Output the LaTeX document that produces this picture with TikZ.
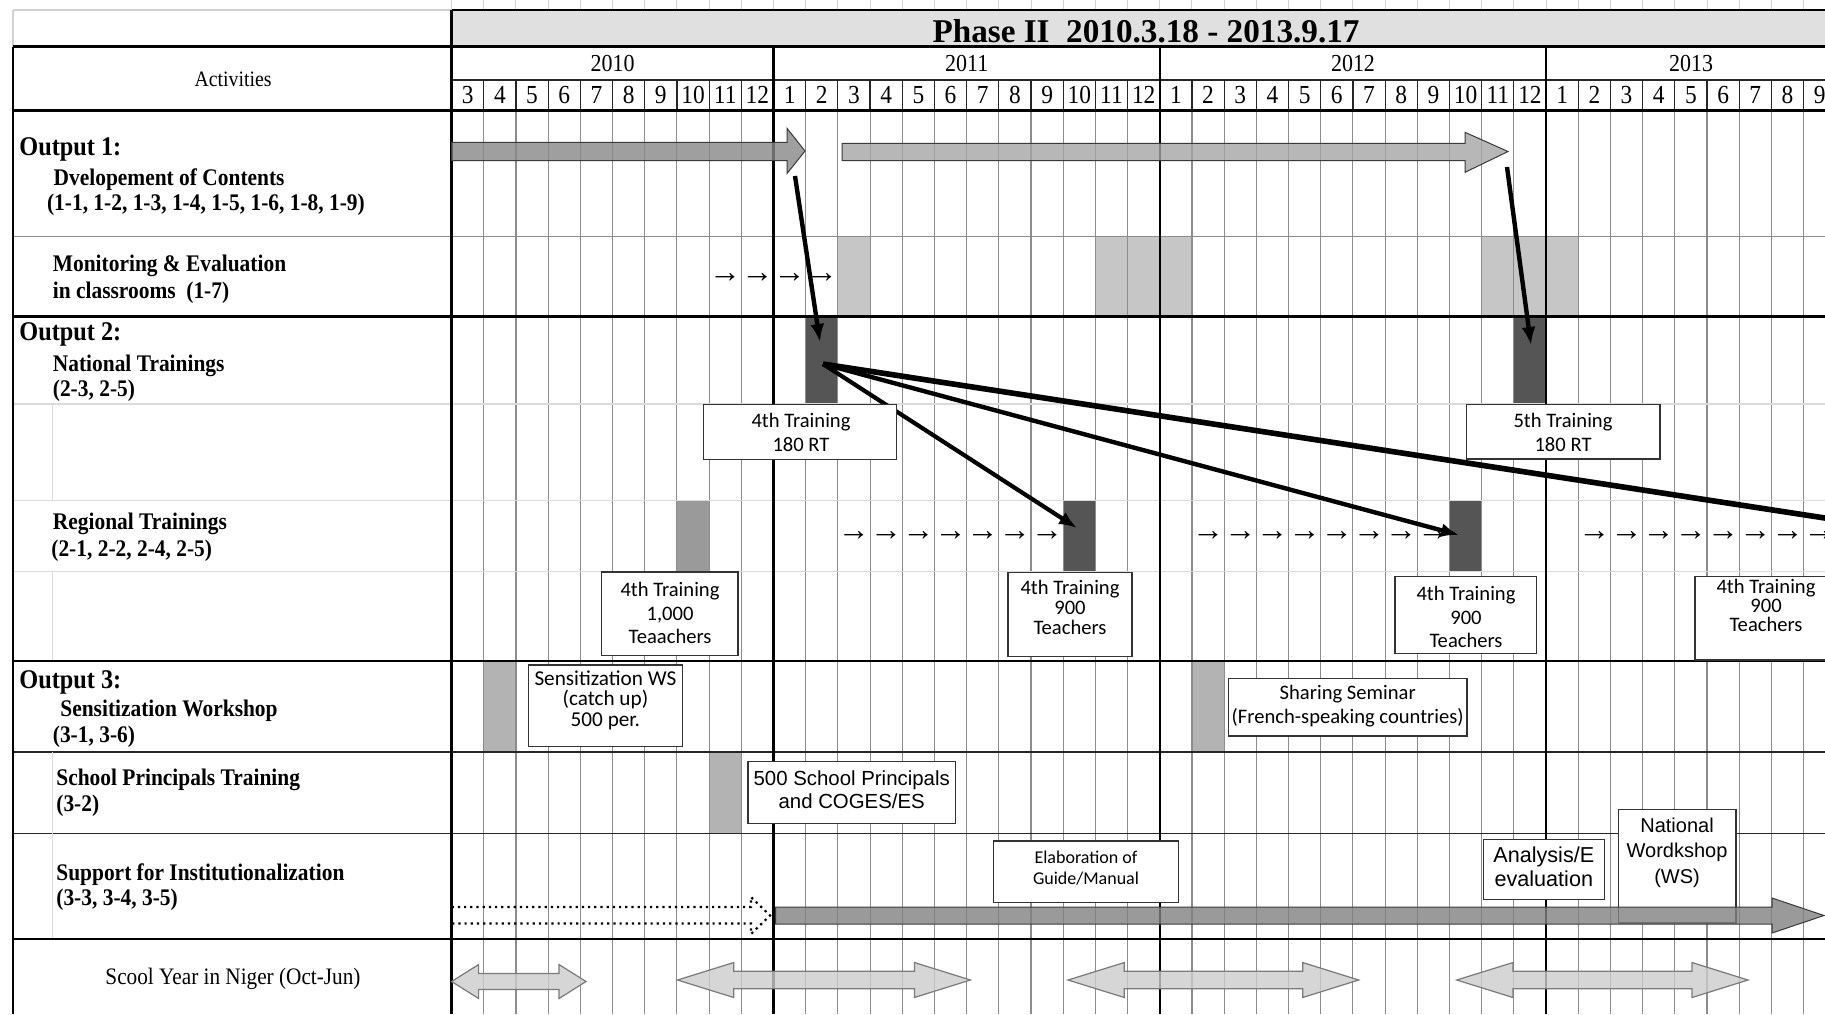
\documentclass[tikz,border=0pt]{standalone}
\usepackage{fontspec}
\setmainfont{Liberation Serif}
\newfontfamily\lblfont{Liberation Serif}[FakeStretch=0.9]
\newfontfamily\boxfont{Carlito}
\newfontfamily\arialfont{Liberation Sans}
\usetikzlibrary{arrows.meta}
\definecolor{gridgray}{gray}{0.55}
\definecolor{palegray}{gray}{0.86}
\definecolor{toplines}{gray}{0.82}
\definecolor{hdrgray}{HTML}{E0E0E0}
\definecolor{darkblock}{HTML}{555555}
\definecolor{midblock}{HTML}{9A9A9A}
\definecolor{lightblock}{HTML}{C6C6C6}
\definecolor{sensblock}{HTML}{B3B3B3}
\definecolor{arrowA}{HTML}{888888}
\definecolor{arrowB}{HTML}{A6A6A6}
\definecolor{arrowC}{HTML}{818181}
\definecolor{schoolfill}{HTML}{CCCCCC}
\definecolor{schooledge}{HTML}{7A7A7A}
\definecolor{arrowedge}{HTML}{3A3A3A}
\definecolor{boxedge}{HTML}{333333}
\begin{document}
\begin{tikzpicture}[x=0.5pt,y=-0.5pt,
  heavyrule/.style={line width=1.4pt,draw=black},
  yearrule/.style={line width=1.2pt,draw=black},
  thinrule/.style={line width=0.6pt,draw=black!85},
  gridrule/.style={line width=0.55pt,draw=gridgray},
  paleline/.style={line width=0.8pt,draw=palegray},
  lbl/.style={font=\lblfont\bfseries\fontsize{11.9}{14}\selectfont,anchor=base west,inner sep=0pt},
  outlbl/.style={font=\lblfont\bfseries\fontsize{13.5}{16}\selectfont,anchor=base west,inner sep=0pt},
  monthlbl/.style={font=\lblfont\fontsize{13}{15}\selectfont,anchor=base,inner sep=0pt},
  yearlbl/.style={font=\lblfont\fontsize{12.2}{15}\selectfont,anchor=base,inner sep=0pt},
  smallarr/.style={font=\fontsize{16}{16}\selectfont,inner sep=0pt},
  boxline/.style={draw=boxedge,line width=0.6pt,fill=white},
  boxtxt/.style={align=center,inner sep=0pt},
  connector/.style={line width=2.2pt,-{Latex[length=9pt,width=7pt]}},
  bigarrow/.style={draw=arrowedge,line width=0.5pt,fill opacity=0.8},
  schoolarrow/.style={draw=schooledge,line width=0.6pt,fill=schoolfill,fill opacity=0.8}
]
\useasboundingbox (0,0) rectangle (1825,1014);
\clip (0,0) rectangle (1825,1014);
\fill[white] (0,0) rectangle (1825,1014);

% ---------- fills ----------
\fill[hdrgray] (451.6,10) rectangle (1840,46.7);
\fill[lightblock] ({451.6+32.19*12},236.3) rectangle ({451.6+32.19*13},316.6);
\fill[lightblock] ({451.6+32.19*20},236.3) rectangle ({451.6+32.19*23},316.6);
\fill[lightblock] ({451.6+32.19*32},236.3) rectangle ({451.6+32.19*35},316.6);
\fill[darkblock] ({451.6+32.19*11},316.6) rectangle ({451.6+32.19*12},403.9);
\fill[darkblock] ({451.6+32.19*33},316.6) rectangle ({451.6+32.19*34},403.9);
\fill[midblock] ({451.6+32.19*7},500.5) rectangle ({451.6+32.19*8},571.5);
\fill[darkblock] ({451.6+32.19*19},500.5) rectangle ({451.6+32.19*20},571.5);
\fill[darkblock] ({451.6+32.19*31},500.5) rectangle ({451.6+32.19*32},571.5);
\fill[sensblock] ({451.6+32.19*1},661) rectangle ({451.6+32.19*2},751.9);
\fill[sensblock] ({451.6+32.19*23},661) rectangle ({451.6+32.19*24},751.9);
\fill[sensblock] ({451.6+32.19*8},751.9) rectangle ({451.6+32.19*9},833.4);

% ---------- grid ----------
\foreach \i in {0,...,43} \draw[toplines,line width=0.5pt] ({451.6+32.19*\i},0) -- ({451.6+32.19*\i},10);
\draw[toplines,line width=0.6pt] (13,10) -- (451.6,10) (13,10) -- (13,46.7);
\foreach \i in {1,...,43} {
  \draw[gridrule] ({451.6+32.19*\i},110.6) -- ({451.6+32.19*\i},1014);
  \draw[thinrule] ({451.6+32.19*\i},80) -- ({451.6+32.19*\i},110.6);
}
\draw[thinrule] (451.6,80) -- (1825,80);
\draw[gridrule] (13,236.3) -- (1825,236.3);
\draw[paleline] (13,403.9) -- (1825,403.9);
\draw[paleline] (13,500.5) -- (1825,500.5);
\draw[paleline] (13,571.5) -- (1825,571.5);
\draw[thinrule] (13,751.9) -- (1825,751.9);
\draw[thinrule] (13,833.4) -- (1825,833.4);
\draw[paleline] (52.5,403.9) -- (52.5,500.5) (52.5,571.5) -- (52.5,661) (52.5,751.9) -- (52.5,939);
\draw[heavyrule] (451.6,10) -- (1830,10);
\draw[heavyrule] (13,46.7) -- (1830,46.7);
\draw[heavyrule] (13,110.6) -- (1830,110.6);
\draw[heavyrule] (13,316.6) -- (1830,316.6);
\draw[heavyrule] (13,661) -- (1830,661);
\draw[heavyrule] (13,939) -- (1830,939);
\draw[heavyrule] (451.6,10) -- (451.6,1014);
\draw[line width=0.9pt] (13,46.7) -- (13,1014);
\foreach \i in {10,22,34} \draw[yearrule] ({451.6+32.19*\i},46.7) -- ({451.6+32.19*\i},1014);

% ---------- header texts ----------
\node[font=\bfseries\fontsize{16.6}{19}\selectfont,anchor=base,inner sep=0pt] (phase) at (1146,42) {Phase II\ \ 2010.3.18 - 2013.9.17};
\node[font=\lblfont\fontsize{11}{13}\selectfont,anchor=base,inner sep=0pt] (activities) at (233,86.7) {Activities};
\node[yearlbl] (y2010) at (612.6,71.5) {2010};
\node[yearlbl] (y2011) at (966.7,71.5) {2011};
\node[yearlbl] (y2012) at (1353,71.5) {2012};
\node[yearlbl] (y2013) at (1691,71.5) {2013};
\foreach \i in {0,...,42} {
  \pgfmathtruncatemacro\m{mod(\i+2,12)+1}
  \node[monthlbl] (mon\i) at ({451.6+32.19*(\i+0.5)},103) {\m};
}

% ---------- activity labels ----------
\node[outlbl] (out1) at (19,155) {Output 1:};
\node[lbl] (dev) at (53.3,185) {Dvelopement of Contents};
\node[lbl] (devnum) at (46.7,210) {(1-1, 1-2, 1-3, 1-4, 1-5, 1-6, 1-8, 1-9)};
\node[lbl] (mon) at (52.5,271) {Monitoring \& Evaluation};
\node[lbl] (monnum) at (52.5,298) {in classrooms\ \ (1-7)};
\node[outlbl] (out2) at (19,340) {Output 2:};
\node[lbl] (nat) at (52.5,371) {National Trainings};
\node[lbl] (natnum) at (52.5,396) {(2-3, 2-5)};
\node[lbl] (reg) at (52.5,529) {Regional Trainings};
\node[lbl] (regnum) at (51,556) {(2-1, 2-2, 2-4, 2-5)};
\node[outlbl] (out3) at (19,688) {Output 3:};
\node[lbl] (sens) at (60,716.7) {Sensitization Workshop};
\node[lbl] (sensnum) at (52.5,742) {(3-1, 3-6)};
\node[lbl] (sch) at (56,785) {School Principals Training};
\node[lbl] (schnum) at (56,811) {(3-2)};
\node[lbl] (sup) at (56,880) {Support for Institutionalization};
\node[lbl] (supnum) at (56,905) {(3-3, 3-4, 3-5)};
\node[font=\lblfont\fontsize{11.8}{14}\selectfont,anchor=base,inner sep=0pt] (scool) at (233,984) {Scool Year in Niger (Oct-Jun)};

% ---------- small progress arrows ----------
\foreach \i in {8,...,11} \node[smallarr] (ma\i) at ({451.6+32.19*(\i+0.5)},278) {→};
\foreach \i in {12,...,18,23,24,...,30,35,36,...,42} \node[smallarr] (ra\i) at ({451.6+32.19*(\i+0.5)},536) {→};

% ---------- connectors ----------
\coordinate (o1tip) at (795,176);
\coordinate (nat1) at (820,342);
\coordinate (o2tip) at (1507,167);
\coordinate (nat2) at (1531,345);
\coordinate (fanS) at (823,364);
\coordinate (reg1) at (1077,528);
\coordinate (reg2) at (1459,535);
\coordinate (reg3) at (1860,523.4);
\draw[connector] (o1tip) -- (nat1);
\draw[connector] (o2tip) -- (nat2);
\draw[connector,line width=2.1pt] (fanS) -- (reg1);
\draw[connector,line width=2.2pt] (fanS) -- (reg2);
\draw[connector,line width=2.8pt] (fanS) -- (reg3);

% ---------- boxes ----------
\draw[boxline] (703.3,404.3) rectangle (896.7,459.3);
\node[boxtxt,font=\boxfont\fontsize{10.3}{12}\selectfont] (bnat4) at (801,432) {4th Training\\180 RT};
\draw[boxline] (1466.7,404.3) rectangle (1660,459);
\node[boxtxt,font=\boxfont\fontsize{10.3}{12}\selectfont] (bnat5) at (1563,432) {5th Training\\180 RT};
\draw[boxline] (601.5,572) rectangle (738,655.7);
\node[boxtxt,font=\boxfont\fontsize{10.3}{11.8}\selectfont] (breg1) at (670,613) {4th Training\\1,000\\Teaachers};
\draw[boxline] (1008,572.3) rectangle (1132,656.7);
\node[boxtxt,font=\boxfont\fontsize{10.3}{10}\selectfont] (breg2) at (1070,607) {4th Training\\900\\Teachers};
\draw[boxline] (1395,576.7) rectangle (1536.7,653.3);
\node[boxtxt,font=\boxfont\fontsize{10.3}{11.8}\selectfont] (breg3) at (1466,617) {4th Training\\900\\Teachers};
\draw[boxline] (1695,576.7) rectangle (1839,660);
\node[boxtxt,font=\boxfont\fontsize{10.3}{9.6}\selectfont] (breg4) at (1766,605.5) {4th Training\\900\\Teachers};
\draw[boxline] (528.2,665) rectangle (682.6,746.7);
\node[boxtxt,font=\boxfont\fontsize{10.6}{10.3}\selectfont] (bsens) at (605.4,700) {Sensitization WS\\(catch up)\\500 per.};
\draw[boxline] (1228.5,678.3) rectangle (1467,736);
\node[boxtxt,font=\boxfont\fontsize{10.3}{12}\selectfont] (bshare) at (1347.7,706) {Sharing Seminar\\(French-speaking countries)};
\draw[boxline] (748,761.7) rectangle (955.3,823.3);
\node[boxtxt,font=\arialfont\fontsize{10.2}{11.2}\selectfont] (bprin) at (851.7,789.5) {500 School Principals\\and COGES/ES};
\draw[boxline] (993.3,841) rectangle (1178.7,902.3);
\node[boxtxt,font=\boxfont\fontsize{9}{10.8}\selectfont] (belab) at (1086,868) {Elaboration of\\Guide/Manual};
\draw[boxline] (1483.3,839.3) rectangle (1604.3,899.3);
\node[boxtxt,font=\arialfont\fontsize{10.8}{12.2}\selectfont] (banal) at (1543.8,867) {Analysis/E\\evaluation};
\draw[boxline] (1618.5,809.3) rectangle (1736,923);
\node[boxtxt,font=\arialfont\fontsize{10}{12.9}\selectfont] (bnws) at (1677,852.7) {National\\Wordkshop\\(WS)};

% ---------- big arrows ----------
\draw[bigarrow,fill=arrowA] (451.6,142.3) -- (787,142.3) -- (787,128.3) -- (805,151) -- (787,173.5) -- (787,160.5) -- (451.6,160.5) -- cycle;
\draw[bigarrow,fill=arrowB] (842,143.3) -- (1465,143.3) -- (1465,132.3) -- (1508,151.5) -- (1465,172.3) -- (1465,160.7) -- (842,160.7) -- cycle;
\draw[black,dotted,line width=1.1pt] (451.6,907) -- (751,907) -- (751,897) -- (770,915.5) -- (751,934) -- (751,923.5) -- (451.6,923.5) -- cycle;
\draw[bigarrow,fill=arrowC] (775.7,907) -- (1772,907) -- (1772,898) -- (1824,915.5) -- (1772,933) -- (1772,924) -- (775.7,924) -- cycle;

% school-year double arrows
\draw[schoolarrow] (451.6,981.5) -- (478.6,964.5) -- (478.6,973.5) -- (559,973.5) -- (559,964.5) -- (586,981.5) -- (559,998.5) -- (559,989.5) -- (478.6,989.5) -- (478.6,998.5) -- cycle;
\foreach \L/\R in {677.5/970.4, 1068/1358.7, 1456.7/1748} {
  \draw[schoolarrow] (\L,980) -- ({\L+56.3},962.5) -- ({\L+56.3},971.3) -- ({\R-56},971.3) -- ({\R-56},962.5) -- (\R,980) -- ({\R-56},997.5) -- ({\R-56},988.7) -- ({\L+56.3},988.7) -- ({\L+56.3},997.5) -- cycle;
}
\end{tikzpicture}
\end{document}
